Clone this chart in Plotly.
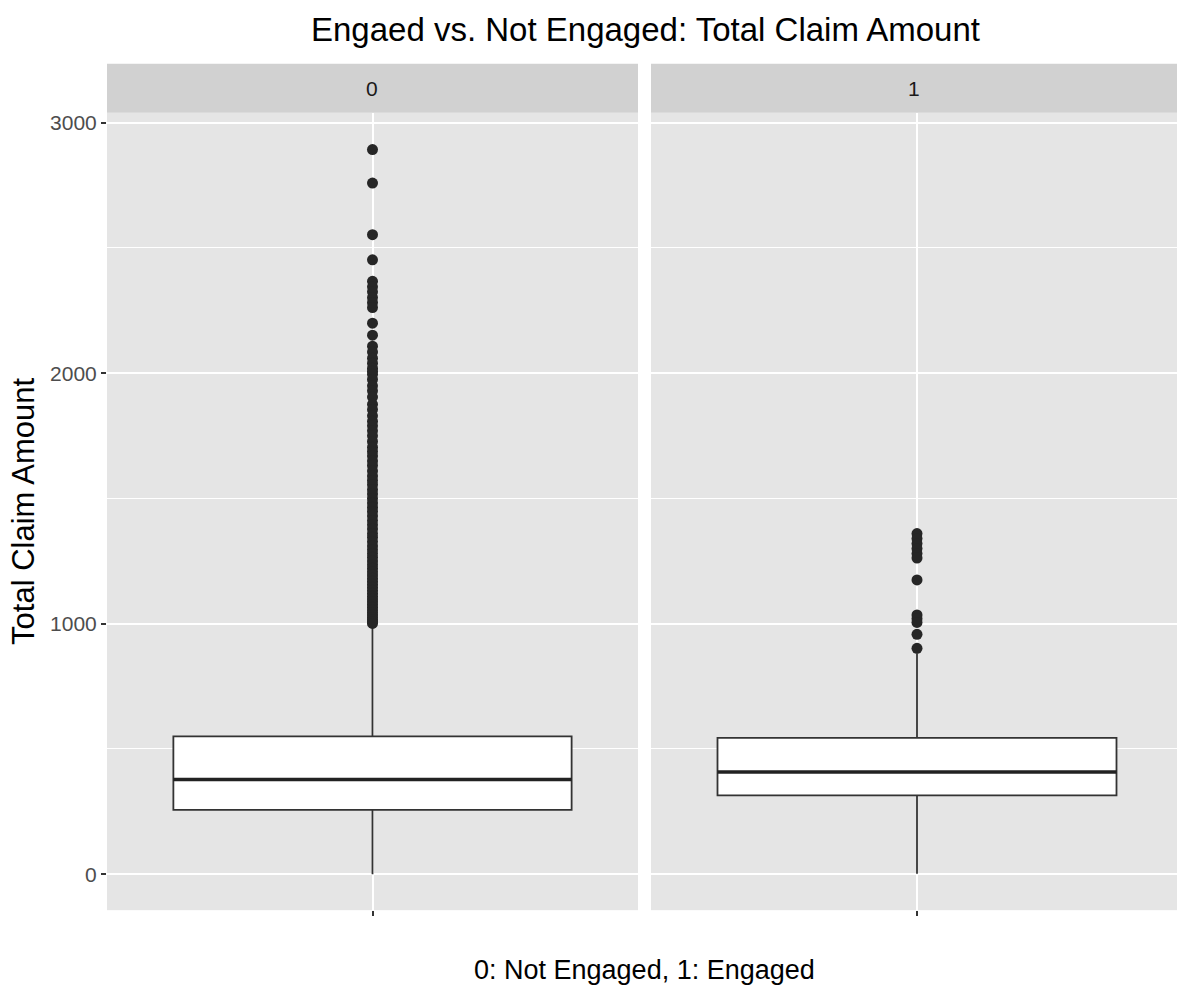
import plotly.graph_objects as go

# ---------------- data ----------------
groups = ["0", "1"]
q1 = [257, 315]
median = [378, 408]
q3 = [550, 544]
lower_fence = [0.1, 2.0]
upper_fence = [990, 882]

outliers_0 = [2893, 2759, 2553, 2453,
              2367, 2345, 2325, 2302, 2282, 2262,
              2200, 2152,
              2108, 2085, 2060, 2040, 2020, 2008,
              1996, 1975, 1950, 1930, 1905,
              1876, 1855, 1830, 1808, 1790, 1770, 1750, 1728, 1705, 1688,
              1670, 1650, 1632, 1610, 1590, 1572, 1555, 1535, 1518, 1500,
              1482, 1465, 1448, 1430, 1412, 1395, 1378, 1360, 1345, 1328,
              1310, 1295, 1280, 1265, 1250, 1236, 1222, 1208, 1195, 1182,
              1170, 1158, 1146, 1134, 1122, 1110, 1099, 1088, 1077, 1066,
              1055, 1045, 1035, 1025, 1016, 1008, 1001]
outliers_1 = [1360, 1340, 1320, 1300, 1280, 1262, 1175, 1035, 1020, 1005, 958, 902]

y_ticks = [0, 1000, 2000, 3000]
y_minor = [500, 1500, 2500]
title_text = "Engaed vs. Not Engaged: Total Claim Amount"
y_title = "Total Claim Amount"
x_title = "0: Not Engaged, 1: Engaged"

# ---------------- layout constants ----------------
W, H = 1177, 989
FONT = "Liberation Sans, Arial, Helvetica, sans-serif"
box_width = 0.9
panel_bg = "#E5E5E5"
strip_bg = "#D1D1D1"
dark = "#333333"

left_dom = [107 / W, 638 / W]
right_dom = [651 / W, 1.0]
plot_dom = [(H - 910) / H, (H - 111) / H]
strip_dom = [(H - 111) / H, (H - 62) / H]
y_range = [-143.4, 3039.8]
x_range_l = [-0.6, 0.6]
x_range_r = [-0.6, 0.6 - 6 / 443]

fig = go.Figure()
all_out = [outliers_0, outliers_1]
axes = [("x", "y"), ("x2", "y2")]

for i, g in enumerate(groups):
    xa, ya = axes[i]
    fig.add_trace(go.Box(
        x=[0], q1=[q1[i]], median=[median[i]], q3=[q3[i]],
        lowerfence=[lower_fence[i]], upperfence=[upper_fence[i]],
        width=box_width, whiskerwidth=0, boxpoints=False,
        fillcolor="white", line=dict(color=dark, width=1.8),
        xaxis=xa, yaxis=ya, showlegend=False, hoverinfo="skip"))
    fig.add_trace(go.Scatter(
        x=[-box_width / 2, box_width / 2], y=[median[i], median[i]],
        mode="lines", line=dict(color="#222222", width=3.6),
        xaxis=xa, yaxis=ya, showlegend=False, hoverinfo="skip"))
    fig.add_trace(go.Scatter(
        x=[0] * len(all_out[i]), y=all_out[i], mode="markers",
        marker=dict(size=11, color="#262626", line=dict(width=0)),
        xaxis=xa, yaxis=ya, showlegend=False, hoverinfo="skip"))

common_x = dict(tickvals=[0], ticktext=[""], ticks="outside", ticklen=5,
                tickwidth=1.5, tickcolor=dark, showgrid=True, gridcolor="white",
                gridwidth=2, zeroline=False, showline=False, type="linear",
                fixedrange=True)
fig.update_layout(
    width=W, height=H,
    margin=dict(l=0, r=0, t=0, b=0),
    paper_bgcolor="white", plot_bgcolor=panel_bg,
    font=dict(family=FONT, color="#4D4D4D"),
    xaxis=dict(domain=left_dom, range=x_range_l, anchor="y", **common_x),
    xaxis2=dict(domain=right_dom, range=x_range_r, anchor="y2", **common_x),
    yaxis=dict(domain=plot_dom, range=y_range, anchor="x",
               tickvals=y_ticks, ticktext=[str(v) for v in y_ticks],
               ticks="outside", ticklen=5, tickwidth=1.5, tickcolor=dark,
               tickfont=dict(size=21, color="#4D4D4D", family=FONT),
               showgrid=True, gridcolor="white", gridwidth=2, zeroline=False,
               minor=dict(tickvals=y_minor, showgrid=True, gridcolor="white",
                          gridwidth=1, ticks=""),
               showline=False),
    yaxis2=dict(domain=plot_dom, range=y_range, anchor="x2", matches="y",
                tickvals=y_ticks, showticklabels=False, ticks="",
                showgrid=True, gridcolor="white", gridwidth=2, zeroline=False,
                minor=dict(tickvals=y_minor, showgrid=True, gridcolor="white",
                           gridwidth=1, ticks=""),
                showline=False),
)

# facet strips
for i, g in enumerate(groups):
    xref = "x domain" if i == 0 else "x2 domain"
    fig.add_shape(type="rect", xref=xref, yref="paper", x0=0, x1=1,
                  y0=strip_dom[0], y1=strip_dom[1], fillcolor=strip_bg,
                  line=dict(width=0), layer="below")
    fig.add_annotation(xref=xref, yref="paper", x=0.5,
                       y=(strip_dom[0] + strip_dom[1]) / 2, text=g,
                       xanchor="center", yanchor="middle",
                       showarrow=False, font=dict(size=21, color="#1A1A1A", family=FONT))

# titles
fig.add_annotation(xref="paper", yref="paper", x=645 / W, y=1 - 28 / H, text=title_text,
                   xanchor="center", yanchor="middle",
                   showarrow=False, font=dict(size=33, color="black", family=FONT))
fig.add_annotation(xref="paper", yref="paper", x=24 / W, y=(H - 511) / H, text=y_title,
                   textangle=-90, xanchor="center", yanchor="middle", showarrow=False,
                   font=dict(size=31, color="black", family=FONT))
fig.add_annotation(xref="paper", yref="paper", x=644 / W, y=(H - 970) / H, text=x_title,
                   xanchor="center", yanchor="middle",
                   showarrow=False, font=dict(size=27, color="black", family=FONT))

fig.write_html("out.html")
